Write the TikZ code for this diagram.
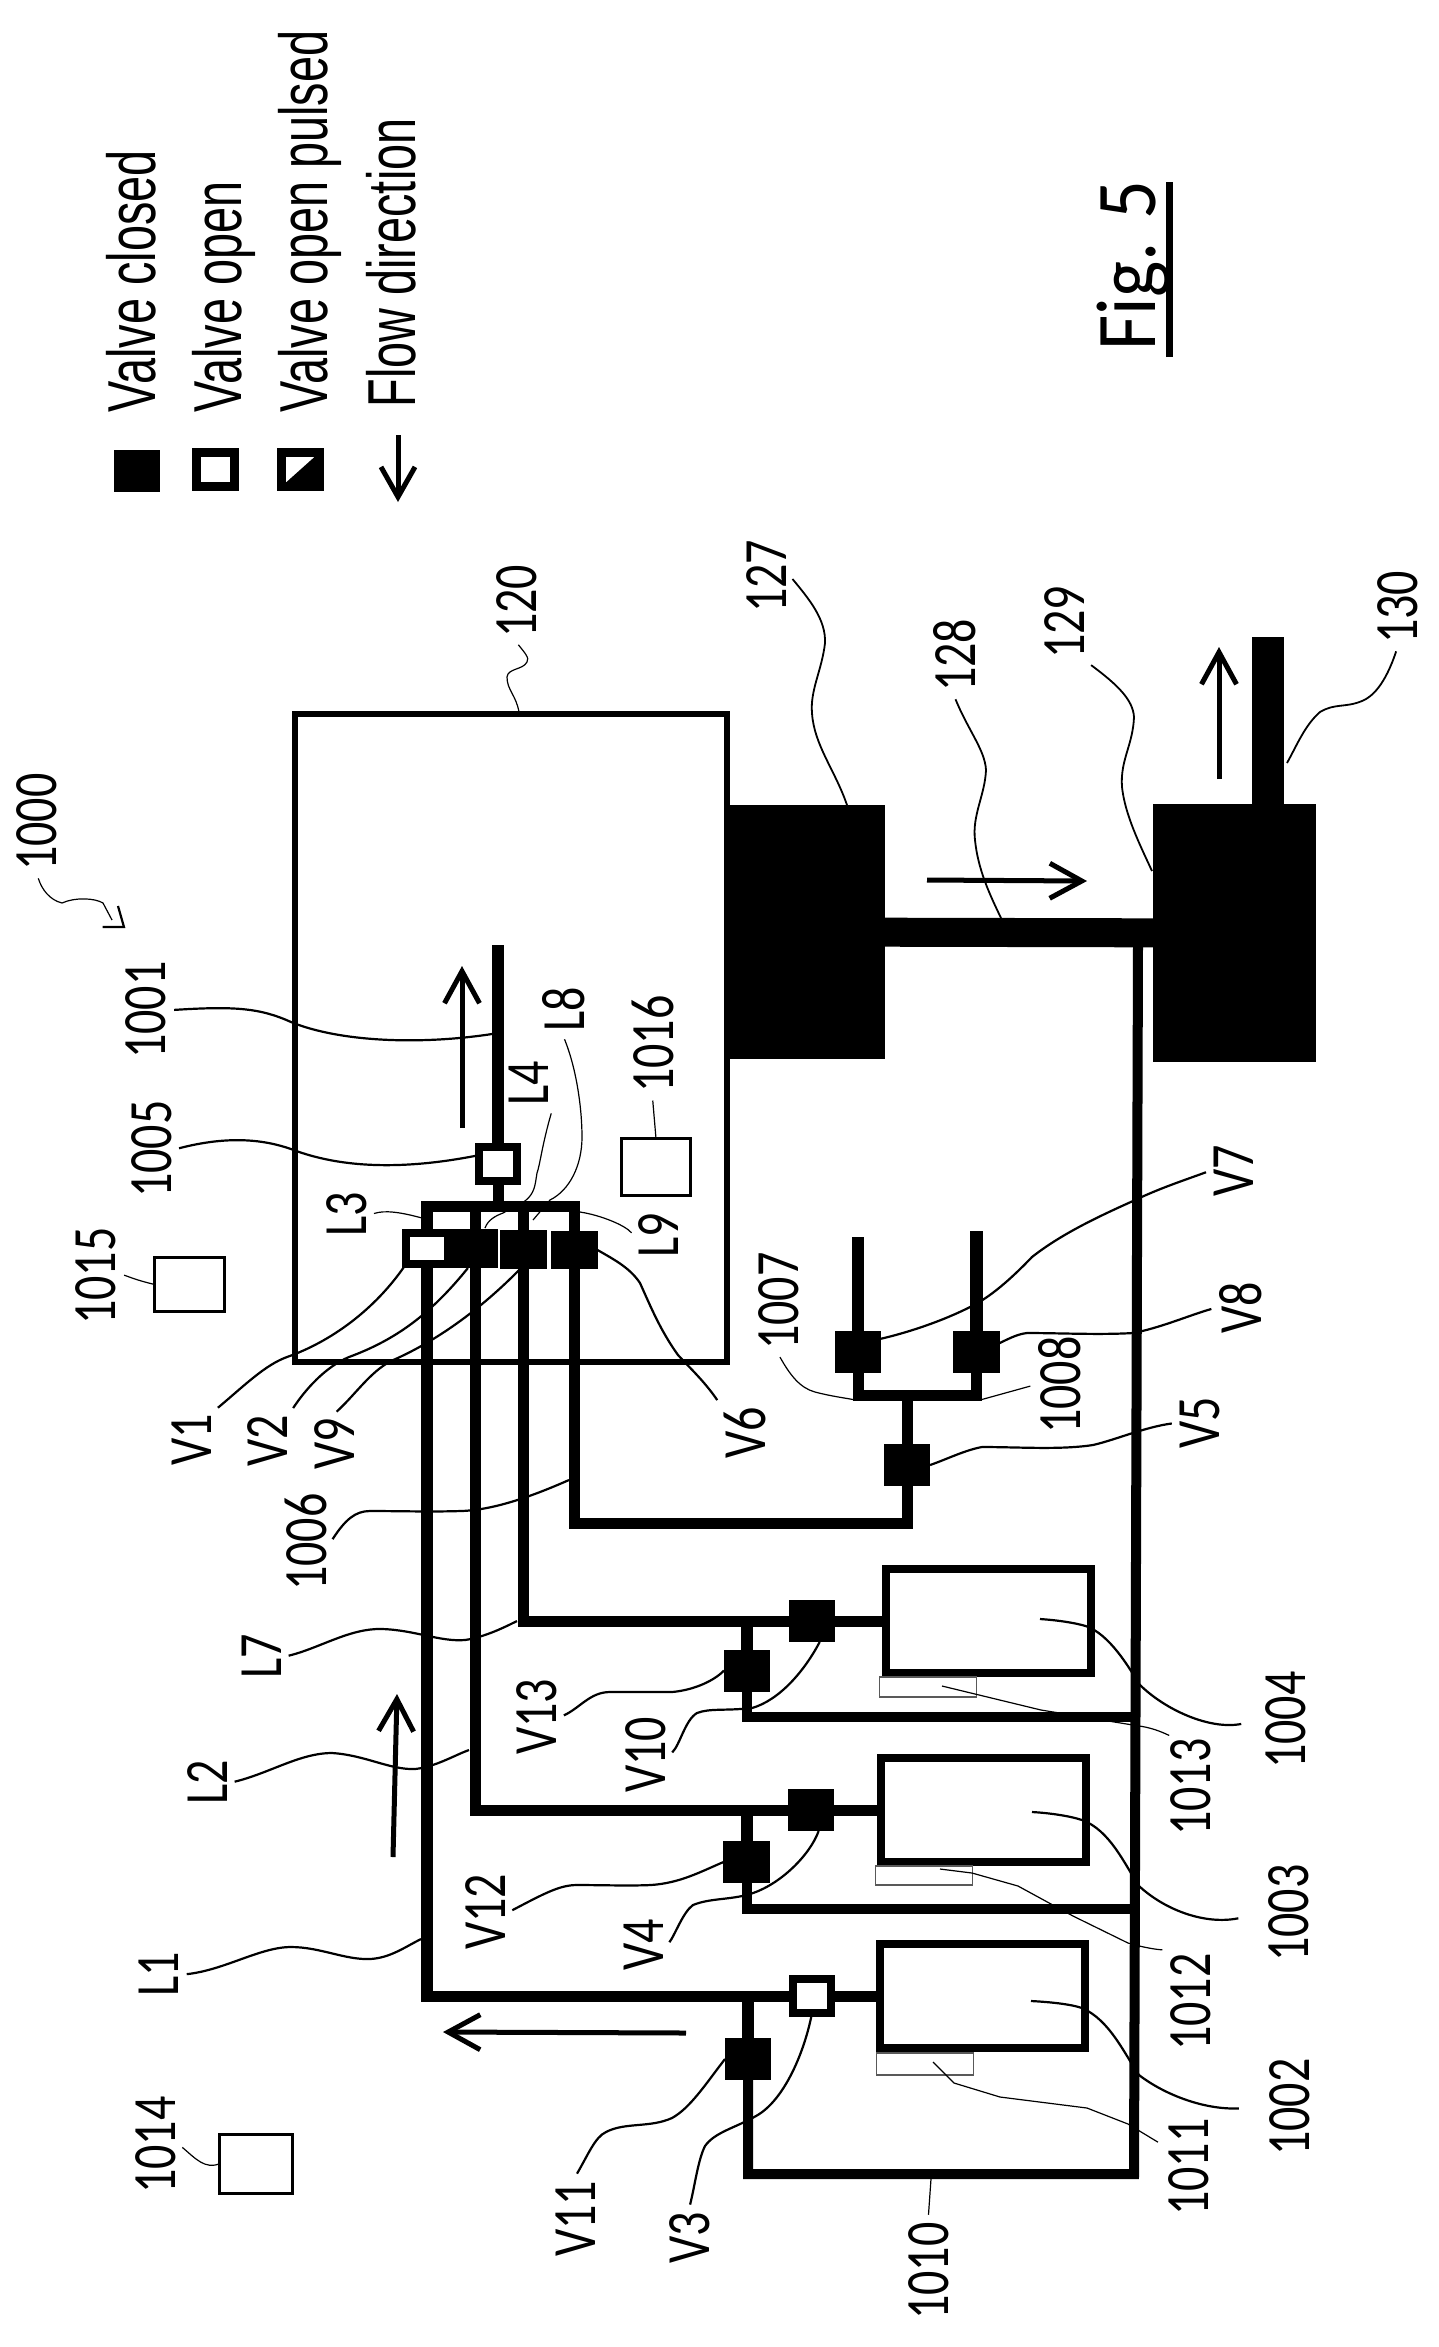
\documentclass[tikz,border=0pt]{standalone}
\usepackage{fontspec}
\usetikzlibrary{arrows.meta}
\newfontfamily\legendfont[FakeStretch=0.69]{Liberation Sans}
\newfontfamily\labelfont[FakeStretch=0.78]{Carlito}
\newfontfamily\figfont[FakeStretch=0.9]{Carlito}
\tikzset{
  closedvalve/.style={rectangle,fill=black,inner sep=0,outer sep=0,minimum width=0.46cm,minimum height=0.42cm},
  openvalve/.style={rectangle,draw,fill=white,line width=0.8mm,inner sep=0,outer sep=0,minimum width=0.38cm,minimum height=0.34cm},
  tank/.style={rectangle,draw,line width=0.75mm,inner sep=0,outer sep=0,minimum width=2.05cm,minimum height=1.04cm},
  sensorbox/.style={rectangle,draw=black!65,line width=0.14mm,inner sep=0,outer sep=0,minimum width=0.97cm},
  ctrlbox/.style={rectangle,draw,line width=0.3mm,inner sep=0,outer sep=0},
  pump/.style={rectangle,fill=black,inner sep=0,outer sep=0},
  pipe/.style={line width=1.1mm},
  lbl/.style={rotate=90,anchor=base west,inner sep=1pt,font=\fontsize{17.5pt}{20pt}\labelfont},
  legendtxt/.style={rotate=90,anchor=base west,inner sep=0pt,font=\fontsize{19.3pt}{22pt}\legendfont},
  leader/.style={line width=0.22mm,shorten <=1pt},
  thinlead/.style={line width=0.12mm,shorten <=1pt},
  flow/.style={line width=0.5mm,-{Straight Barb[length=0.32cm,width=0.35cm]}}
}
\begin{document}
\begin{tikzpicture}[x=0.01cm,y=-0.01cm]
        \useasboundingbox (0,0) rectangle (1439,2347);

        % legend
        \node[closedvalve,minimum width=0.46cm] (kclosed) at (137,471) {};
        \node[openvalve,line width=0.9mm] (kopen) at (215.5,469.5) {};
        \node[openvalve,line width=0.9mm] (kpulsed) at (300.5,469.5) {};
        \fill (kpulsed.south east) -- (kpulsed.north east) -- (kpulsed.south west) -- cycle;
        \coordinate (ka) at (398,435);
        \coordinate (kb) at (398,502);
        \draw[flow,-{Straight Barb[length=0.3cm,width=0.34cm]}] (ka) -- (kb);
        \node[legendtxt] (t1) at (156,413) {Valve closed};
        \node[legendtxt] (t2) at (241,413) {Valve open};
        \node[legendtxt] (t3) at (327,413) {Valve open pulsed};
        \node[legendtxt] (t4) at (415,408) {Flow direction};

        % figure title
        \node[rotate=90,anchor=base west,inner sep=0pt,font=\fontsize{24.2pt}{26pt}\figfont] (lfig) at (1155.5,351) {Fig. 5};
        \coordinate (fa) at (1169.5,357);
        \coordinate (fb) at (1169.5,182);
        \draw[line width=0.65mm] (fa) -- (fb);

        % chamber, pumps, tanks
        \node[rectangle,draw,line width=0.65mm,inner sep=0,outer sep=0,minimum width=4.32cm,minimum height=6.48cm] (c120) at (511,1038) {};
        \node[pump,minimum width=1.6cm,minimum height=2.54cm] (p127) at (805,932) {};
        \node[pump,minimum width=1.63cm,minimum height=2.57cm] (p129) at (1234.5,933) {};
        \node[tank] (t1004) at (988.5,1621) {};
        \node[tank] (t1003) at (983.5,1810) {};
        \node[tank] (t1002) at (982.5,1996) {};
        \node[sensorbox,minimum height=0.2cm] (s1013) at (928,1687) {};
        \node[sensorbox,minimum height=0.19cm] (s1012) at (924,1875.5) {};
        \node[sensorbox,minimum height=0.22cm] (s1011) at (925,2064) {};
        \node[ctrlbox,minimum width=0.72cm,minimum height=0.59cm] (b1014) at (256,2163.5) {};
        \node[ctrlbox,minimum width=0.69cm,minimum height=0.54cm] (b1015) at (189.5,1284.5) {};
        \node[ctrlbox,minimum width=0.69cm,minimum height=0.57cm] (b1016) at (656,1167) {};

        % valves
        \node[openvalve,minimum width=0.42cm,minimum height=0.31cm] (v1) at (427,1248.5) {};
        \node[closedvalve,minimum height=0.39cm] (v2) at (475,1248.5) {};
        \node[closedvalve,minimum height=0.39cm] (v9) at (523.5,1249.5) {};
        \node[closedvalve,minimum height=0.38cm] (v6) at (574.5,1250) {};
        \node[openvalve,line width=0.75mm] (v1005) at (498,1164) {};
        \node[closedvalve] (v5) at (907,1465) {};
        \node[closedvalve] (v7) at (858,1352) {};
        \node[closedvalve] (v8) at (976.5,1351.5) {};
        \node[closedvalve] (v10) at (812,1621) {};
        \node[closedvalve] (v13) at (747,1670.5) {};
        \node[closedvalve] (v4) at (811,1810) {};
        \node[closedvalve] (v12) at (746.5,1862) {};
        \node[openvalve,line width=0.72mm] (v3) at (812,1996) {};
        \node[closedvalve] (v11) at (748,2059) {};

        % pipe corners and ends
        \coordinate (m1) at (427,1206);
        \coordinate (m2) at (475,1206);
        \coordinate (m3) at (523.5,1206);
        \coordinate (m4) at (574.5,1206);
        \coordinate (m0) at (498,1206);
        \coordinate (e1001) at (498,945);
        \coordinate (c1) at (427,1996);
        \coordinate (c2) at (475,1810);
        \coordinate (c3) at (523.5,1621);
        \coordinate (c4) at (574.5,1523);
        \coordinate (c5) at (907,1523);
        \coordinate (c6) at (858,1395);
        \coordinate (c7) at (976.5,1395);
        \coordinate (c8) at (907,1395);
        \coordinate (e7) at (858,1237);
        \coordinate (e8) at (976.5,1231);
        \coordinate (j10) at (747,1621);
        \coordinate (j12) at (746.5,1810);
        \coordinate (j3) at (748,1996);
        \coordinate (b10) at (747,1717);
        \coordinate (b12) at (746.5,1909);
        \coordinate (b3) at (748,2174);
        \coordinate (by0) at (1138,947);
        \coordinate (by1) at (1136,1717);
        \coordinate (by2) at (1135,1909);
        \coordinate (by3) at (1134,2174);
        \coordinate (e130) at (1268,637);

        % pipes
        \draw[pipe] (v1) -- (m1) -- (m4) -- (v6);
        \draw[pipe] (v2) -- (m2);
        \draw[pipe] (v9) -- (m3);
        \draw[pipe] (v1005) -- (m0);
        \draw[pipe,line width=1.2mm] (v1005) -- (e1001);
        \draw[pipe] (v1) -- (c1) -- (v3);
        \draw[pipe] (v3) -- (t1002);
        \draw[pipe] (v2) -- (c2) -- (v4);
        \draw[pipe] (v4) -- (t1003);
        \draw[pipe] (v9) -- (c3) -- (v10);
        \draw[pipe] (v10) -- (t1004);
        \draw[pipe] (v6) -- (c4) -- (c5) -- (v5);
        \draw[pipe] (v5) -- (c8);
        \draw[pipe,line width=1.25mm] (v7) -- (e7);
        \draw[pipe,line width=1.25mm] (v8) -- (e8);
        \draw[pipe] (v7) -- (c6) -- (c7) -- (v8);
        \draw[pipe,line width=1.2mm] (j10) -- (v13);
        \draw[pipe,line width=1.2mm] (j12) -- (v12);
        \draw[pipe,line width=1.2mm] (j3) -- (v11);
        \draw[pipe,line width=1mm] (v13) -- (b10) -- (by1);
        \draw[pipe,line width=1mm] (v12) -- (b12) -- (by2);
        \draw[pipe,line width=1mm] (v11) -- (b3) -- (by3) -- (by0);
        \draw[line width=2.9mm] (p127) -- (p129);
        \draw[line width=3.2mm] (e130) -- (e130 |- p129.north);

        % flow arrows
        \coordinate (f1a) at (462,1128);
        \coordinate (f1b) at (462,966);
        \coordinate (f2a) at (393,1857);
        \coordinate (f2b) at (397,1694);
        \coordinate (f3a) at (686,2033);
        \coordinate (f3b) at (443,2032);
        \coordinate (f4a) at (927,880);
        \coordinate (f4b) at (1087,881);
        \coordinate (f5a) at (1219,779);
        \coordinate (f5b) at (1219,647);
        \draw[flow] (f1a) -- (f1b);
        \draw[flow] (f2a) -- (f2b);
        \draw[flow] (f3a) -- (f3b);
        \draw[flow] (f4a) -- (f4b);
        \draw[flow] (f5a) -- (f5b);

        % labels
        \node[lbl] (l1000) at (57,875) {1000};
        \node[lbl] (l120) at (536,642) {120};
        \node[lbl] (l127) at (786,617) {127};
        \node[lbl] (l128) at (975,696) {128};
        \node[lbl] (l129) at (1084,663) {129};
        \node[lbl] (l130) at (1417,648) {130};
        \node[lbl] (l1001) at (166,1063) {1001};
        \node[lbl] (l1005) at (171,1202) {1005};
        \node[lbl] (l1015) at (116,1329) {1015};
        \node[lbl] (l1016) at (673,1097) {1016};
        \node[lbl] (l1014) at (175,2198) {1014};
        \node[lbl] (ll3) at (366,1241) {L3};
        \node[lbl] (ll4) at (548,1110) {L4};
        \node[lbl] (ll8) at (584,1036) {L8};
        \node[lbl] (ll9) at (678,1262) {L9};
        \node[lbl] (ll7) at (281,1683) {L7};
        \node[lbl] (ll2) at (227,1809) {L2};
        \node[lbl] (ll1) at (179,2001) {L1};
        \node[lbl] (lv1) at (211,1470) {V1};
        \node[lbl] (lv2) at (287,1471) {V2};
        \node[lbl] (lv9) at (354,1474) {V9};
        \node[lbl] (lv6) at (765,1463) {V6};
        \node[lbl] (lv7) at (1253,1201) {V7};
        \node[lbl] (lv8) at (1261,1338) {V8};
        \node[lbl] (lv5) at (1219,1453) {V5};
        \node[lbl] (lv13) at (556,1759) {V13};
        \node[lbl] (lv10) at (665,1797) {V10};
        \node[lbl] (lv12) at (505,1954) {V12};
        \node[lbl] (lv4) at (663,1975) {V4};
        \node[lbl] (lv11) at (595,2261) {V11};
        \node[lbl] (lv3) at (709,2268) {V3};
        \node[lbl] (l1006) at (326,1595) {1006};
        \node[lbl] (l1007) at (798,1354) {1007};
        \node[lbl] (l1008) at (1080,1438) {1008};
        \node[lbl] (l1004) at (1305,1773) {1004};
        \node[lbl] (l1013) at (1210,1840) {1013};
        \node[lbl] (l1003) at (1308,1966) {1003};
        \node[lbl] (l1012) at (1210,2055) {1012};
        \node[lbl] (l1002) at (1309,2160) {1002};
        \node[lbl] (l1011) at (1208,2220) {1011};
        \node[lbl] (l1010) at (948,2324) {1010};

        % free ends of the leaders
        \coordinate (h1000) at (112,920);
        \coordinate (ha) at (99,927);
        \coordinate (hb) at (124,927);
        \coordinate (hc) at (118,906);
        \coordinate (n120) at (519,712);
        \coordinate (n127) at (847,805);
        \coordinate (n128) at (1001,918);
        \coordinate (n129) at (1152,871);
        \coordinate (n130) at (1287,763);
        \coordinate (n1001) at (492,1034);
        \coordinate (nl3) at (422,1218);
        \coordinate (nl4) at (485,1228);
        \coordinate (nl8) at (533,1220);
        \coordinate (nl9) at (580,1212);
        \coordinate (nl7) at (517,1621);
        \coordinate (nl2) at (469,1750);
        \coordinate (nl1) at (421,1939);
        \coordinate (n1006) at (569,1480);
        \coordinate (n1007) at (856,1400);
        \coordinate (n1008) at (980,1400);
        \coordinate (n1010) at (931,2179);
        \coordinate (n1002) at (1031,2001);
        \coordinate (n1003) at (1032,1812);
        \coordinate (n1004) at (1040,1619);
        \coordinate (n1011) at (933,2062);
        \coordinate (n1012) at (940,1869);
        \coordinate (n1013) at (942,1686);
        \coordinate (o1011) at (1161,2144);

        % leaders
        \draw[thinlead] (l1000.west) .. controls (42,890) and (50,900) .. (62,903) .. controls (75,897) and (95,898) .. (103,903) -- (h1000);
        \draw[leader] (ha) -- (hb) -- (hc);
        \draw[thinlead] (l120.west) .. controls (524,652) and (530,658) .. (527,662) .. controls (523,670) and (508,668) .. (507,677) .. controls (507,690) and (516,695) .. (n120);
        \draw[leader,line width=0.18mm] (l127.south) .. controls (810,600) and (826,620) .. (825,643) .. controls (822,670) and (810,690) .. (812,713) .. controls (814,745) and (835,770) .. (n127);
        \draw[leader,line width=0.18mm] (l128.west) .. controls (968,730) and (985,750) .. (986,770) .. controls (985,795) and (972,815) .. (975,840) .. controls (978,870) and (990,895) .. (n128);
        \draw[leader,line width=0.18mm] (l129.south west) .. controls (1118,685) and (1133,700) .. (1134,717) .. controls (1133,745) and (1120,760) .. (1122,787) .. controls (1125,815) and (1140,845) .. (n129);
        \draw[leader,line width=0.18mm] (l130.west) .. controls (1385,685) and (1372,697) .. (1362,701) .. controls (1345,708) and (1335,703) .. (1320,712) .. controls (1305,725) and (1297,745) .. (n130);
        \draw[leader] (l1001.south) .. controls (235,1006) and (260,1008) .. (291,1022) .. controls (340,1042) and (420,1045) .. (n1001);
        \draw[leader] (l1005.south) .. controls (230,1135) and (265,1140) .. (291,1149) .. controls (350,1172) and (420,1167) .. (v1005.155);
        \draw[thinlead] (l1015.south) .. controls (125,1275) and (135,1280) .. (b1015.west);
        \draw[thinlead] (l1016.west) -- (b1016.north);
        \draw[thinlead] (l1014.south) .. controls (195,2158) and (205,2170) .. (b1014.west);
        \draw[thinlead] (ll3.south) .. controls (385,1210) and (400,1212) .. (nl3);
        \draw[thinlead] (ll4.south west) .. controls (542,1145) and (540,1165) .. (537,1173) .. controls (535,1185) and (535,1193) .. (525,1201) -- (503,1213) .. controls (495,1216) and (488,1220) .. (nl4);
        \draw[thinlead] (ll8.west) .. controls (577,1070) and (582,1110) .. (582,1137) .. controls (582,1165) and (570,1190) .. (550,1200) -- (nl8);
        \draw[thinlead] (ll9.north) .. controls (625,1225) and (600,1215) .. (nl9);
        \draw[leader] (ll7.south) .. controls (320,1648) and (350,1628) .. (382,1629) .. controls (415,1630) and (440,1642) .. (465,1640) .. controls (485,1637) and (505,1627) .. (nl7);
        \draw[leader] (ll2.south) .. controls (270,1773) and (300,1753) .. (332,1753) .. controls (365,1755) and (390,1770) .. (415,1769) .. controls (435,1767) and (455,1755) .. (nl2);
        \draw[leader] (ll1.south) .. controls (225,1970) and (260,1947) .. (291,1947) .. controls (320,1947) and (345,1960) .. (370,1959) .. controls (390,1958) and (405,1947) .. (nl1);
        \draw[leader] (lv1.south east) .. controls (245,1385) and (265,1365) .. (287,1357) .. controls (330,1342) and (375,1310) .. (v1.south west);
        \draw[leader] (lv2.south east) .. controls (305,1390) and (325,1367) .. (349,1357) .. controls (395,1340) and (430,1315) .. (v2.250);
        \draw[leader] (lv9.east) .. controls (355,1395) and (370,1372) .. (391,1361) .. controls (435,1342) and (480,1310) .. (v9.260);
        \draw[leader] (lv6.north east) .. controls (705,1382) and (690,1368) .. (678,1355) .. controls (660,1330) and (650,1305) .. (640,1283) .. controls (630,1268) and (615,1260) .. (v6.east);
        \draw[leader] (lv7.north) .. controls (1185,1180) and (1160,1188) .. (1133,1201) .. controls (1095,1218) and (1060,1235) .. (1032,1257) .. controls (1010,1280) and (990,1297) .. (972,1306) .. controls (945,1320) and (910,1332) .. (v7.30);
        \draw[leader] (lv8.north) .. controls (1190,1315) and (1160,1328) .. (1133,1333) .. controls (1100,1335) and (1060,1333) .. (1027,1333) .. controls (1018,1334) and (1010,1338) .. (v8.20);
        \draw[leader] (lv5.north) .. controls (1145,1427) and (1115,1440) .. (1093,1445) .. controls (1060,1450) and (1020,1447) .. (982,1447) .. controls (965,1450) and (945,1460) .. (v5.east);
        \draw[leader] (l1006.south) .. controls (345,1520) and (355,1511) .. (370,1511) .. controls (400,1511) and (430,1512) .. (461,1511) .. controls (495,1510) and (535,1495) .. (n1006);
        \draw[thinlead] (l1007.west) .. controls (790,1375) and (800,1388) .. (815,1392) .. controls (830,1396) and (845,1398) .. (n1007);
        \draw[thinlead] (l1008.north) -- (n1008);
        \draw[leader] (lv13.south) .. controls (580,1708) and (590,1692) .. (610,1692) .. controls (630,1692) and (650,1692) .. (672,1692) .. controls (695,1690) and (715,1680) .. (v13.west);
        \draw[leader] (lv10.south) .. controls (680,1745) and (685,1720) .. (697,1713) .. controls (710,1708) and (725,1711) .. (752,1708) .. controls (780,1700) and (805,1670) .. (v10.290);
        \draw[leader] (lv12.south) .. controls (545,1893) and (560,1885) .. (577,1885) .. controls (600,1885) and (630,1886) .. (651,1885) .. controls (680,1883) and (700,1872) .. (v12.west);
        \draw[leader] (lv4.south) .. controls (675,1935) and (683,1912) .. (693,1905) .. controls (710,1898) and (730,1900) .. (750,1894) .. controls (780,1885) and (810,1855) .. (v4.290);
        \draw[leader] (lv11.east) .. controls (588,2155) and (595,2137) .. (606,2132) .. controls (625,2122) and (650,2128) .. (672,2118) .. controls (690,2108) and (705,2085) .. (v11.west);
        \draw[leader] (lv3.east) .. controls (695,2185) and (698,2160) .. (705,2146) .. controls (715,2132) and (735,2128) .. (756,2116) .. controls (785,2100) and (805,2050) .. (v3.south);
        \draw[leader,shorten <=0.2cm] (l1004.north) .. controls (1210,1730) and (1165,1710) .. (1139,1684) .. controls (1125,1660) and (1105,1630) .. (1082,1625) .. controls (1070,1622) and (1055,1620) .. (n1004);
        \draw[leader,shorten <=0.26cm] (l1003.north) .. controls (1205,1925) and (1165,1910) .. (1139,1886) .. controls (1125,1865) and (1110,1830) .. (1082,1820) .. controls (1070,1816) and (1050,1813) .. (n1003);
        \draw[leader,shorten <=0.26cm] (l1002.north) .. controls (1205,2110) and (1165,2095) .. (1139,2075) .. controls (1125,2055) and (1110,2020) .. (1082,2008) .. controls (1070,2004) and (1050,2002) .. (n1002);
        \draw[thinlead] (l1013.north east) .. controls (1168,1735) and (1155,1728) .. (1139,1726) -- (1041,1710) -- (n1013);
        \draw[thinlead] (l1012.north east) .. controls (1160,1950) and (1145,1948) .. (1128,1943) -- (1073,1916) -- (1018,1886) -- (972,1873) -- (n1012);
        \draw[thinlead] (o1011) -- (1128,2124) -- (1087,2108) -- (1000,2097) -- (954,2083) -- (n1011);
        \draw[thinlead] (l1010.east) -- (n1010);

\end{tikzpicture}
\end{document}
